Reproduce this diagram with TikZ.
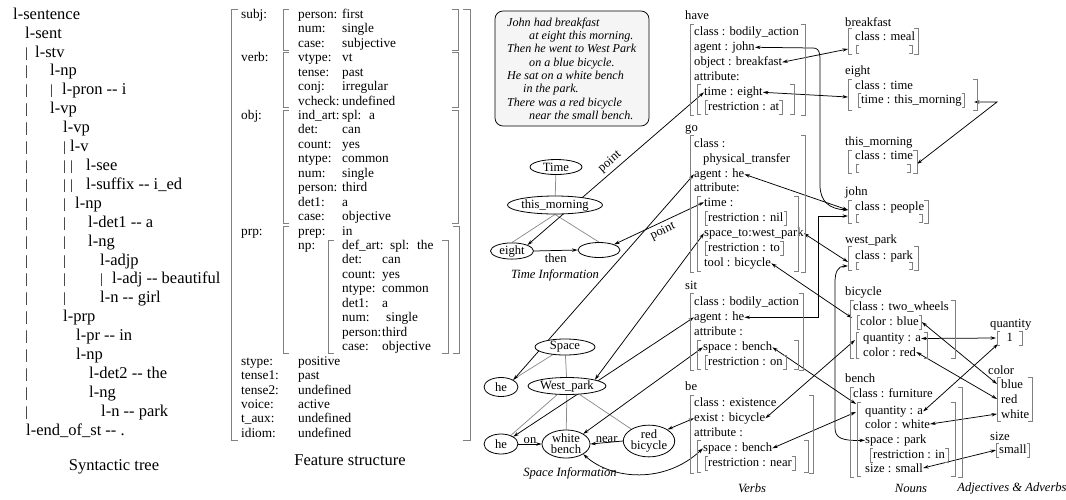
\documentclass[tikz,border=0pt]{standalone}
\usepackage{fontspec}
\setmainfont{Liberation Serif}
\usetikzlibrary{shapes.geometric,arrows.meta,calc}
\pgfdeclarelayer{bg}
\pgfsetlayers{bg,main}

\tikzset{
  every node/.style={inner sep=0pt},
  tree/.style={anchor=mid west, font=\fontsize{16.5}{18}\selectfont},
  bar/.style={anchor=mid west, font=\fontsize{14}{16}\selectfont},
  fs/.style={anchor=mid west, font=\fontsize{13.3}{15}\selectfont},
  vb/.style={anchor=mid west, font=\fontsize{12.6}{14}\selectfont},
  story/.style={anchor=mid west, font=\fontsize{12.1}{13}\selectfont\itshape},
  capt/.style={font=\fontsize{16.5}{18}\selectfont},
  icapt/.style={font=\fontsize{12.6}{14}\selectfont\itshape},
  lab/.style={font=\fontsize{12.6}{14}\selectfont, inner sep=0pt},
  ell/.style={draw, ellipse, fill=white, line width=0.8pt, inner sep=0pt,
    font=\fontsize{12.6}{11}\selectfont, align=center},
  brk/.style={draw=black!50, line width=0.75pt},
  gline/.style={draw=black!45, line width=0.75pt},
  tip/.tip={Stealth[length=5.5pt,width=3.4pt]},
  lnk/.style={draw, line width=0.75pt, tip-tip},
  lnkr/.style={draw, line width=0.75pt, -tip},
  sub/.style={inner xsep=3pt, inner ysep=1pt, text height=9pt, text depth=2.5pt},
}

% a pair of square brackets: [tick]{left x}{right x}{top y}{bottom y}
\newcommand\bkt[5][4]{%
  \draw[brk] (#2+#1,#4) -- (#2,#4) -- (#2,#5) -- (#2+#1,#5);
  \draw[brk] (#3-#1,#4) -- (#3,#4) -- (#3,#5) -- (#3-#1,#5);}
% small brackets hugging a node
\newcommand\sbk[1]{%
  \draw[brk] ([xshift=3pt]#1.north west) -- (#1.north west) -- (#1.south west) -- ([xshift=3pt]#1.south west);
  \draw[brk] ([xshift=-3pt]#1.north east) -- (#1.north east) -- (#1.south east) -- ([xshift=-3pt]#1.south east);}
% vertical guide bars of the tree rows
\newcommand\bars[3]{\foreach \bx in {#3}{\node[bar] (bar#1x\bx) at (\bx,#2) {|};}}
% feature row: name, row, key x, key, value x, value
\newcommand\kv[6]{%
  \node[fs] (#1k) at (#3,{16+14.45*#2}) {#4};
  \node[fs] (#1v) at (#5,{16+14.45*#2}) {#6};}

\begin{document}
\begin{tikzpicture}[x=1pt,y=-1pt]
\useasboundingbox (0,0) rectangle (1066,499);

% ================= syntactic tree =================
\node[tree] (t1) at (13,17) {l-sentence};
\node[tree] (t2) at (25,35.9) {l-sent};
\bars{3}{54.8}{25} \node[tree] (t3) at (35,54.8) {l-stv};
\bars{4}{73.7}{25} \node[tree] (t4) at (50,73.7) {l-np};
\bars{5}{92.6}{25,50} \node[tree] (t5) at (62,92.6) {l-pron -{}- i};
\bars{6}{111.5}{25} \node[tree] (t6) at (50,111.5) {l-vp};
\bars{7}{130.4}{25} \node[tree] (t7) at (63,130.4) {l-vp};
\bars{8}{149.3}{25,63} \node[tree] (t8) at (70,149.3) {l-v};
\bars{9}{168.2}{25,63,70} \node[tree] (t9) at (86,168.2) {l-see};
\bars{10}{187.1}{25,63,70} \node[tree] (t10) at (86,187.1) {l-suffix -{}- i\_ed};
\bars{11}{206}{25,63} \node[tree] (t11) at (75,206) {l-np};
\bars{12}{224.9}{25,63} \node[tree] (t12) at (88,224.9) {l-det1 -{}- a};
\bars{13}{243.8}{25,63} \node[tree] (t13) at (88,243.8) {l-ng};
\bars{14}{262.7}{25,63} \node[tree] (t14) at (100,262.7) {l-adjp};
\bars{15}{281.6}{25,63,100} \node[tree] (t15) at (112,281.6) {l-adj -{}- beautiful};
\bars{16}{300.5}{25,63} \node[tree] (t16) at (100,300.5) {l-n -{}- girl};
\bars{17}{319.4}{25} \node[tree] (t17) at (63,319.4) {l-prp};
\bars{18}{338.3}{25} \node[tree] (t18) at (76,338.3) {l-pr -{}- in};
\bars{19}{357.2}{25} \node[tree] (t19) at (76,357.2) {l-np};
\bars{20}{376.1}{25} \node[tree] (t20) at (89,376.1) {l-det2 -{}- the};
\bars{21}{395}{25} \node[tree] (t21) at (89,395) {l-ng};
\bars{22}{413.9}{25} \node[tree] (t22) at (101,413.9) {l-n -{}- park};
\node[tree] (t23) at (26,432.8) {l-end\_of\_st -{}- .};
\node[capt] (capTree) at (114,467) {Syntactic tree};

% ================= feature structure =================
\node[fs] (subjK) at (241,16) {subj:};
\node[fs] (verbK) at (241,{16+14.45*3}) {verb:};
\node[fs] (objK) at (241,{16+14.45*7}) {obj:};
\node[fs] (prpK) at (241,{16+14.45*15}) {prp:};
\kv{sa}{0}{298}{person:}{342}{first}
\kv{sb}{1}{298}{num:}{342}{single}
\kv{sc}{2}{298}{case:}{342}{subjective}
\kv{va}{3}{298}{vtype:}{342}{vt}
\kv{vb}{4}{298}{tense:}{342}{past}
\kv{vc}{5}{298}{conj:}{342}{irregular}
\kv{vd}{6}{298}{vcheck:}{342}{undefined}
\kv{oa}{7}{298}{ind\_art:}{342}{spl:~ a}
\kv{ob}{8}{298}{det:}{342}{can}
\kv{oc}{9}{298}{count:}{342}{yes}
\kv{od}{10}{298}{ntype:}{342}{common}
\kv{oe}{11}{298}{num:}{342}{single}
\kv{of}{12}{298}{person:}{342}{third}
\kv{og}{13}{298}{det1:}{342}{a}
\kv{oh}{14}{298}{case:}{342}{objective}
\kv{pa}{15}{298}{prep:}{342}{in}
\node[fs] (npK) at (298,{16+14.45*16}) {np:};
\kv{na}{16}{342}{def\_art:}{390}{spl:~ the}
\kv{nb}{17}{342}{det:}{382}{can}
\kv{nc}{18}{342}{count:}{382}{yes}
\kv{nd}{19}{342}{ntype:}{382}{common}
\kv{ne}{20}{342}{det1:}{382}{a}
\kv{nf}{21}{342}{num:}{386}{single}
\kv{ng}{22}{342}{person:}{382}{third}
\kv{nh}{23}{342}{case:}{382}{objective}
\kv{ba}{24}{241}{stype:}{298}{positive}
\kv{bb}{25}{241}{tense1:}{298}{past}
\kv{bc}{26}{241}{tense2:}{298}{undefined}
\kv{bd}{27}{241}{voice:}{298}{active}
\kv{be}{28}{241}{t\_aux:}{298}{undefined}
\kv{bf}{29}{241}{idiom:}{298}{undefined}
\bkt[6]{283}{458}{9}{50}
\bkt[6]{283}{458}{52.4}{107.6}
\bkt[6]{283}{458}{110}{223}
\bkt[6]{283}{459}{226}{353.5}
\bkt[6]{328}{448}{240.5}{353.5}
\bkt[7]{231}{470}{9}{440}
\node[capt] (capFS) at (350,460) {Feature structure};

% ================= story =================
\node[draw, rounded corners=8pt, fill=black!4, line width=0.75pt,
      minimum width=154pt, minimum height=115pt] (story) at (572,68.5) {};
\node[story] (s1) at (507,24) {John had breakfast};
\node[story] (s2) at (529,37.3) {at eight this morning.};
\node[story] (s3) at (507,50.6) {Then he went to West Park};
\node[story] (s4) at (529,63.9) {on a blue bicycle.};
\node[story] (s5) at (507,77.2) {He sat on a white bench};
\node[story] (s6) at (523,90.5) {in the park.};
\node[story] (s7) at (507,103.8) {There was a red bicycle};
\node[story] (s8) at (529,117.1) {near the small bench.};

% ================= time information =================
\node[ell, minimum width=52pt, minimum height=15pt] (tm) at (556,167) {Time};
\node[ell, minimum width=87pt, minimum height=18pt] (tmo) at (555,205) {this\_morning};
\node[ell, minimum width=43pt, minimum height=15pt] (e8) at (512,251) {eight};
\node[ell, minimum width=42pt, minimum height=15pt] (emp) at (599,250) {};
\node[icapt] (capTime) at (555,275) {Time Information};

% ================= space information =================
\node[ell, minimum width=60pt, minimum height=16pt] (sp) at (565,347) {Space};
\node[ell, minimum width=34pt, minimum height=19pt] (he1) at (501,387) {he};
\node[ell, minimum width=78pt, minimum height=17pt] (wp) at (567,386) {West\_park};
\node[ell, minimum width=34pt, minimum height=20pt] (he2) at (501,444) {he};
\node[ell, minimum width=48pt, minimum height=27pt] (wb) at (566,444) {white\\bench};
\node[ell, minimum width=45pt, minimum height=29pt] (rb) at (649,441) {red\\bicycle};
\node[icapt] (capSpace) at (570,473) {Space Information};

% ================= verbs =================
\node[vb] (have) at (685,17) {have};
\node[vb] (hvCls) at (694,33) {class : bodily\_action};
\node[vb] (hvAg) at (694,48) {agent : john};
\node[vb] (hvObj) at (694,63) {object : breakfast};
\node[vb] (hvAttr) at (694,78) {attribute:};
\node[vb] (hvTime) at (704,93) {time : eight};
\node[vb, sub] (hvRes) at (705,108) {restriction : at}; \sbk{hvRes}
\bkt{690}{805}{24}{115}
\bkt{697}{794}{84}{114}

\node[vb] (go) at (685,129) {go};
\node[vb] (gCls) at (694,145) {class :};
\node[vb] (gPt) at (703,160) {physical\_transfer};
\node[vb] (gAg) at (694,175) {agent : he};
\node[vb] (gAttr) at (694,189) {attribute:};
\node[vb] (gTime) at (704,204) {time :};
\node[vb, sub] (gRes1) at (705,219) {restriction : nil}; \sbk{gRes1}
\node[vb] (gSp) at (704,234) {space\_to:west\_park};
\node[vb, sub] (gRes2) at (705,249) {restriction : to}; \sbk{gRes2}
\node[vb] (gTool) at (704,264) {tool : bicycle};
\bkt{690}{805}{135}{272}
\bkt{697}{798}{196}{271}

\node[vb] (sit) at (685,287) {sit};
\node[vb] (sCls) at (694,303) {class : bodily\_action};
\node[vb] (sAg) at (694,318) {agent : he};
\node[vb] (sAttr) at (694,333) {attribute :};
\node[vb] (sSp) at (703,348) {space : bench};
\node[vb, sub] (sRes) at (705,363) {restriction : on}; \sbk{sRes}
\bkt{690}{803}{293}{370}
\bkt{697}{798}{340}{369}

\node[vb] (be) at (685,388) {be};
\node[vb] (bCls) at (694,404) {class : existence};
\node[vb] (bEx) at (694,419) {exist : bicycle};
\node[vb] (bAttr) at (694,434) {attribute :};
\node[vb] (bSp) at (703,449) {space : bench};
\node[vb, sub] (bRes) at (705,464) {restriction : near}; \sbk{bRes}
\bkt{690}{813}{395}{473}
\bkt{697}{808}{440}{472}
\node[icapt] (capV) at (752,488) {Verbs};

% ================= nouns =================
\node[vb] (nbL) at (845,24) {breakfast};
\node[vb] (nbC) at (855,38) {class : meal};
\bkt{848}{918}{28}{54}
\bkt[3]{856}{912}{45}{53}

\node[vb] (neL) at (845,72) {eight};
\node[vb] (neC) at (855,87) {class : time};
\node[vb, sub] (neT) at (858,101) {time : this\_morning}; \sbk{neT}
\bkt{848}{977}{79}{110}

\node[vb] (ntL) at (845,143) {this\_morning};
\node[vb] (ntC) at (855,157) {class : time};
\bkt{848}{917}{150}{173}
\bkt[3]{856}{910}{164}{172}

\node[vb] (njL) at (845,193) {john};
\node[vb] (njC) at (855,208) {class : people};
\bkt{848}{928}{200}{223}
\bkt[3]{856}{922}{214}{222}

\node[vb] (nwL) at (845,241) {west\_park};
\node[vb] (nwC) at (855,257) {class : park};
\bkt{848}{918}{246}{270}
\bkt[3]{856}{912}{262}{269}

\node[vb] (bcL) at (845,293) {bicycle};
\node[vb] (bcC) at (853,308) {class : two\_wheels};
\node[vb, sub] (bcBlue) at (857,323) {color : blue}; \sbk{bcBlue}
\node[vb] (bcQ) at (863,339) {quantity : a};
\node[vb] (bcRed) at (863,354) {color : red};
\bkt{850}{955}{300}{358}
\bkt[3]{856}{927}{332}{358}

\node[vb] (bnL) at (845,380) {bench};
\node[vb] (bnC) at (853,395) {class : furniture};
\node[vb] (bnQ) at (865,412) {quantity : a};
\node[vb] (bnCol) at (865,426) {color : white};
\node[vb] (bnSp) at (865,441) {space : park};
\node[vb, sub] (bnRes) at (870,456) {restriction : in}; \sbk{bnRes}
\node[vb] (bnSize) at (865,470) {size : small};
\bkt{850}{962}{387}{477}
\bkt{857}{955}{402}{476}
\node[icapt] (capN) at (911,488) {Nouns};

% ================= adjectives & adverbs =================
\node[vb] (qL) at (990,325) {quantity};
\node[vb, sub, minimum width=25pt] (q1) at (997,339) {1}; \sbk{q1}
\node[vb] (cL) at (988,372) {color};
\node[vb] (aBlue) at (1001,386) {blue};
\node[vb] (aRed) at (1001,401) {red};
\node[vb] (aWhite) at (1001,416) {white};
\bkt{997}{1032}{377}{421}
\node[vb] (zL) at (990,438) {size};
\node[vb, sub] (aSmall) at (996,451) {small}; \sbk{aSmall}
\node[icapt] (capA) at (1012,488) {Adjectives \& Adverbs};

% attachment points on the noun and adjective frames
\coordinate (nBreak) at (848,49);
\coordinate (nEight) at (848,97);
\coordinate (nEightR) at (974,102);
\coordinate (nEightK) at (997,102);
\coordinate (nTM) at (917,164);
\coordinate (nJohnA) at (848,210);
\coordinate (nJohnB) at (848,216);
\coordinate (jCorner) at (818,216);
\coordinate (nWPA) at (848,262);
\coordinate (nWPB) at (848,266);
\coordinate (nBlue) at (852,318);
\coordinate (nBQ) at (855,340);
\coordinate (nBenA) at (856,404);
\coordinate (nBenB) at (856,412);
\coordinate (aQA) at (996,338);
\coordinate (aQB) at (998,344);

% ================= connectors =================
\begin{pgfonlayer}{bg}
  % time graph
  \draw[gline] (tm) -- (tmo);
  \draw[gline] (tmo.south) -- (e8.north);
  \draw[gline] (tmo.south) -- (emp.north);
  \draw[lnk] (e8.north east) -- node[lab, sloped, above=3pt] {point} (hvTime.west);
  \draw[lnk] (emp.north east) -- node[lab, sloped, below=3pt] {point} (gTime.west);
  \draw[lnkr] (e8.east) -- node[lab, below=3pt] {then} (emp.west);
  % space graph
  \draw[gline] (sp) -- (he1);
  \draw[gline] (sp) -- (wp);
  \draw[gline] (wp) -- (he2);
  \draw[gline] (wp) -- (wb);
  \draw[gline] (wp) -- (rb);
  \draw[lnkr] (he2.east) -- node[lab, above=0pt] {on} (wb.west);
  \draw[lnkr] (rb.west) -- node[lab, above=0pt] {near} (wb.east);
  \draw[lnk] (he1.north east) -- (gAg.west);
  \draw[lnk] (wp.north east) -- (gSp.west);
  \draw[lnk] (he2.north east) -- (sAg.west);
  \draw[lnk] (wb.north east) -- (sSp.west);
  \draw[lnk] (rb.north east) -- (bEx.west);
  \draw[lnk] (bSp.west) .. controls (665,484) and (612,480) .. (wb.south east);
  % verbs to nouns
  \draw[lnk] (hvObj.east) -- (nBreak);
  \draw[lnk] (hvTime.east) -- (nEight);
  \draw[lnk] (nEightR) -- (nEightK) -- (nTM);
  \draw[lnk] (hvAg.east) -- (813,48) .. controls (821,48) and (820,56) .. (820,70)
        -- (820,185) .. controls (820,202) and (830,209) .. (nJohnA);
  \draw[lnk] (gAg.east) -- (nJohnA);
  \draw[lnk] (sAg.east) -| (jCorner) -- (nJohnB);
  \draw[lnk] (gSp.east) -- (nWPA);
  \draw[lnk] (nWPB) .. controls (838,266) and (835,272) .. (835,282)
        -- (835,428) .. controls (835,438) and (842,441) .. (bnSp.west);
  \draw[lnk] (gTool.east) -- (nBlue);
  \draw[lnk] (bEx.east) -- (nBQ);
  \draw[lnk] (sSp.east) -- (nBenA);
  \draw[lnk] (bSp.east) -- (nBenB);
  % nouns to adjectives
  \draw[lnk] (bcBlue.east) -- ([xshift=-4pt]aBlue.west);
  \draw[lnk] (bcRed.east) -- ([xshift=-4pt]aRed.west);
  \draw[lnk] (bcQ.east) -- (aQA);
  \draw[lnk] (bnQ.east) -- (aQB);
  \draw[lnk] (bnCol.east) -- ([xshift=-4pt]aWhite.west);
  \draw[lnk] (bnSize.east) -- (aSmall.west);
\end{pgfonlayer}
\end{tikzpicture}
\end{document}
